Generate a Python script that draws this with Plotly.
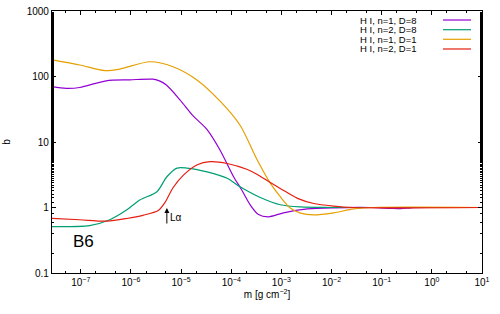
import math
import plotly.graph_objects as go

# ---------------- data ----------------
purple_m = [2.67e-8, 5.1e-8, 9.5e-8, 3.2e-7, 9.5e-7, 2.75e-6, 3.8e-6, 5.1e-6, 9.5e-6, 1.74e-5,
            3.3e-5, 6.0e-5, 1.1e-4, 1.62e-4, 2.4e-4, 3.5e-4, 5.5e-4, 1.1e-3, 3.3e-3, 1.1e-2,
            6e-2, 0.15, 0.24, 0.38, 0.95, 10]
purple_b = [70, 66, 68, 86, 89, 91, 85, 74, 44, 25,
            15.5, 7.5, 3.0, 1.85, 1.09, 0.78, 0.72, 0.83, 0.95, 0.99,
            1.0, 0.97, 0.96, 0.99, 1.0, 1.0]

green_m = [2.67e-8, 1.5e-7, 3.8e-7, 8.3e-7, 1.5e-6, 3.3e-6, 5.2e-6, 8.3e-6, 1.3e-5, 3.3e-5,
           8.3e-5, 1.5e-4, 3.8e-4, 9.5e-4, 2.4e-3, 9.5e-3, 10]
green_b = [0.51, 0.53, 0.65, 0.92, 1.3, 1.74, 2.95, 4.0, 4.0, 3.5,
           2.8, 2.07, 1.42, 1.1, 1.02, 1.0, 1.0]

orange_m = [2.67e-8, 9.5e-8, 3.0e-7, 6.0e-7, 2.4e-6, 6.9e-6, 2.1e-5, 6.0e-5, 1.5e-4, 3.3e-4,
            6.0e-4, 9.5e-4, 1.5e-3, 2.4e-3, 4.4e-3, 1.1e-2, 2.75e-2, 6.9e-2, 10]
orange_b = [179, 150, 123, 130, 168, 141, 88, 42, 18, 5.3,
            2.35, 1.46, 0.98, 0.82, 0.77, 0.83, 0.95, 1.0, 1.0]

red_m = [2.67e-8, 9.5e-8, 3.3e-7, 8.3e-7, 1.74e-6, 3.5e-6, 4.8e-6, 6.9e-6, 1.1e-5, 2.1e-5,
         3.8e-5, 8.3e-5, 2.1e-4, 3.3e-4, 6.0e-4, 9.5e-4, 2.1e-3, 4.4e-3, 1.1e-2, 2.75e-2, 10]
red_b = [0.68, 0.65, 0.62, 0.68, 0.76, 0.9, 1.2, 2.0, 3.1, 4.5,
         5.0, 4.7, 3.8, 3.2, 2.4, 1.95, 1.38, 1.15, 1.05, 1.0, 1.0]

series_names = ["H I, n=1, D=8", "H I, n=2, D=8", "H I, n=1, D=1", "H I, n=2, D=1"]
series_colors = ["#9400d3", "#009e73", "#e69f00", "#e51e10"]

x_tick_vals = [1e-7, 1e-6, 1e-5, 1e-4, 1e-3, 1e-2, 1e-1, 1e0, 1e1]
x_tick_text = ["10<sup>−7</sup>", "10<sup>−6</sup>", "10<sup>−5</sup>", "10<sup>−4</sup>",
               "10<sup>−3</sup>", "10<sup>−2</sup>", "10<sup>−1</sup>", "10<sup>0</sup>", "10<sup>1</sup>"]
y_tick_vals = [0.1, 1, 10, 100, 1000]
y_tick_text = ["0.1", "1", "10", "100", "1000"]

lyman_alpha_m = 5.2e-6
x_log_range = [-7.574, 1.0]
y_log_range = [-1, 3]

# ---------------- figure ----------------
FONT = "Liberation Sans, Arial, sans-serif"
fig = go.Figure()
all_m = [purple_m, green_m, orange_m, red_m]
all_b = [purple_b, green_b, orange_b, red_b]
for m, b, name, col in zip(all_m, all_b, series_names, series_colors):
    fig.add_trace(go.Scatter(x=m, y=b, mode="lines", name=name,
                             line=dict(color=col, width=1.2, shape="spline", smoothing=0.8),
                             showlegend=False))

axis_common = dict(type="log", showline=True, linecolor="black", linewidth=1.2,
                   mirror="allticks", ticks="inside", ticklen=4, tickcolor="black",
                   showgrid=False, zeroline=False, automargin=False,
                   ticklabeloverflow="allow",
                   tickfont=dict(family=FONT, size=10, color="black"),
                   minor=dict(ticks="inside", ticklen=2, tickcolor="black", showgrid=False))

fig.update_xaxes(range=x_log_range, tickvals=x_tick_vals, ticktext=x_tick_text,
                 title=dict(text="m [g cm<sup>−2</sup>]", font=dict(family=FONT, size=10, color="black"),
                            standoff=2),
                 **axis_common)
fig.update_yaxes(range=y_log_range, tickvals=y_tick_vals, ticktext=y_tick_text,
                 title=dict(text="b", font=dict(family=FONT, size=10, color="black"), standoff=14),
                 **axis_common)

# legend (gnuplot style: text right-aligned, sample line to the right)
leg_y = [0.9656, 0.9286, 0.892, 0.855]
for name, col, yy in zip(series_names, series_colors, leg_y):
    fig.add_annotation(xref="paper", yref="paper", x=0.8535, y=yy, text=name,
                       showarrow=False, xanchor="right", yanchor="middle",
                       font=dict(family=FONT, size=9.5, color="black"))
    fig.add_shape(type="line", xref="paper", yref="paper", x0=0.9093, x1=0.9744, y0=yy, y1=yy,
                  line=dict(color=col, width=1.2))

# B6 label
fig.add_annotation(xref="paper", yref="paper", x=0.045, y=0.12, text="B6", showarrow=False,
                   xanchor="left", yanchor="middle", font=dict(family=FONT, size=17, color="black"))

# Lyman alpha arrow
fig.add_annotation(x=math.log10(lyman_alpha_m), y=math.log10(0.98), ax=math.log10(lyman_alpha_m),
                   ay=math.log10(0.54), axref="x", ayref="y", xref="x", yref="y", text="",
                   showarrow=True, arrowhead=2, arrowsize=1, arrowwidth=1, arrowcolor="black")
fig.add_annotation(x=math.log10(lyman_alpha_m), y=math.log10(0.71), xref="x", yref="y", text="Lα",
                   showarrow=False, xanchor="left", yanchor="middle", xshift=1,
                   font=dict(family=FONT, size=10, color="black"))

fig.update_layout(width=500, height=314, margin=dict(l=52, r=18, t=11, b=41),
                  paper_bgcolor="white", plot_bgcolor="white")
# remove the default page margin so the 500x314 figure fills the window exactly
fig.write_html("out.html", config={"displayModeBar": False},
               post_script="document.body.style.margin='0';")
